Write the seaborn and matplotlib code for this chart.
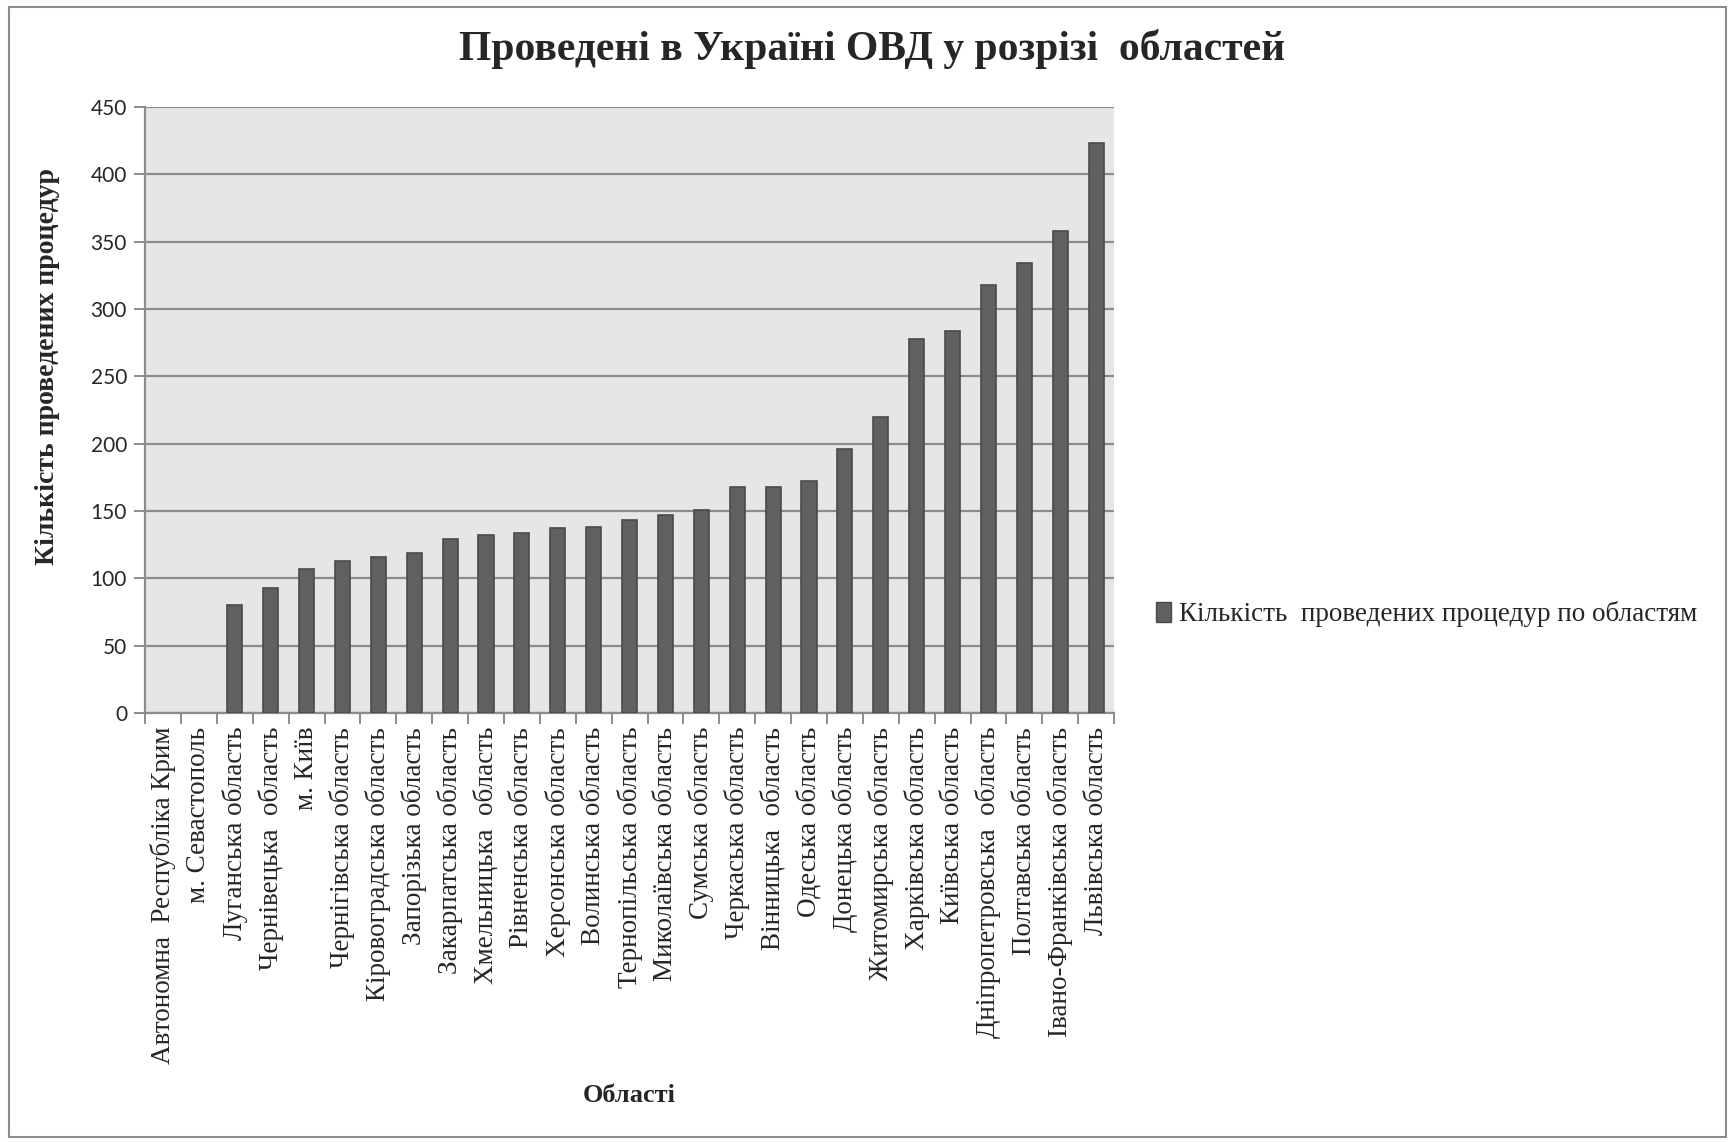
import matplotlib
matplotlib.use("Agg")
import matplotlib.pyplot as plt
from matplotlib.patches import Rectangle, Patch
import seaborn as sns
import pandas as pd
import numpy as np

regions = [
    "Автономна  Республіка Крим", "м. Севастополь", "Луганська область",
    "Чернівецька  область", "м. Київ", "Чернігівська область",
    "Кіровоградська область", "Запорізька область", "Закарпатська область",
    "Хмельницька  область", "Рівненська область", "Херсонська область",
    "Волинська область", "Тернопільська область", "Миколаївська область",
    "Сумська область", "Черкаська область", "Вінницька  область",
    "Одеська область", "Донецька область", "Житомирська область",
    "Харківська область", "Київська область", "Дніпропетровська  область",
    "Полтавська область", "Івано-Франківська область", "Львівська область",
]
counts = [0, 0, 80, 93, 107, 113, 116, 119, 129, 132, 134, 137, 138, 143,
          147, 151, 168, 168, 172, 196, 220, 278, 284, 318, 334, 358, 423]
series_name = "Кількість  проведених процедур по областям"

df = pd.DataFrame({"region": regions, "count": counts})

sns.set_theme(style="white")
serif = ["Liberation Serif", "DejaVu Serif"]
sans = ["Lato", "DejaVu Sans"]

fig = plt.figure(figsize=(17.31, 11.42), dpi=100)
ax = fig.add_axes([0.0838, 0.3757, 0.5598, 0.5306])
ax.set_facecolor("#e6e6e6")

sns.barplot(data=df, x="region", y="count", color="#606060", width=0.42,
            saturation=1, edgecolor="#4a4a4a", linewidth=1.2, ax=ax, zorder=3)
# empty regions: no visible outline
for bar in ax.patches:
    if bar.get_height() == 0:
        bar.set_linewidth(0)

ax.set_ylim(0, 450)
ax.set_yticks(np.arange(0, 451, 50))
ax.set_xlim(-0.5, len(regions) - 0.5)
ax.yaxis.grid(True, color="#8c8c8c", linewidth=1.6, zorder=1)
ax.set_axisbelow(True)

for side in ["top", "right"]:
    ax.spines[side].set_visible(False)
for side in ["left", "bottom"]:
    ax.spines[side].set_color("#8c8c8c")
    ax.spines[side].set_linewidth(1.6)

ax.tick_params(axis="y", which="major", direction="out", length=8, width=1.4,
               color="#8c8c8c", left=True, pad=5)
for lbl in ax.get_yticklabels():
    lbl.set_family(sans)
    lbl.set_fontsize(15)

# category separators as outward ticks, labels on centres
ax.set_xticks(np.arange(len(regions) + 1) - 0.5, minor=True)
ax.tick_params(axis="x", which="minor", direction="out", length=8, width=1.4,
               color="#8c8c8c", bottom=True)
ax.tick_params(axis="x", which="major", length=0, pad=10)
ax.set_xticks(range(len(regions)))
ax.set_xticklabels(regions, rotation=90, family=serif, fontsize=19.5, va="top")

ax.set_xlabel("Області", family=serif, fontsize=19, fontweight="bold", labelpad=14)
ax.set_ylabel("Кількість проведених процедур", family=serif, fontsize=20,
              fontweight="bold")
ax.yaxis.set_label_coords(-0.088, 0.572)

fig.suptitle("Проведені в Україні ОВД у розрізі  областей", family=serif,
             fontsize=30, fontweight="bold", x=0.504, y=0.975)

handle = Patch(facecolor="#606060", edgecolor="#4a4a4a")
fig.legend([handle], [series_name], loc="center left",
           bbox_to_anchor=(0.654, 0.462), frameon=False,
           prop={"family": serif, "size": 19.5}, handlelength=0.55,
           handleheight=0.8, handletextpad=0.3)

fig.patches.append(Rectangle((0.005, 0.004), 0.992, 0.99, transform=fig.transFigure,
                             fill=False, edgecolor="#8c8c8c", linewidth=1.5))

fig.savefig("out.png", dpi=100, facecolor="white")
